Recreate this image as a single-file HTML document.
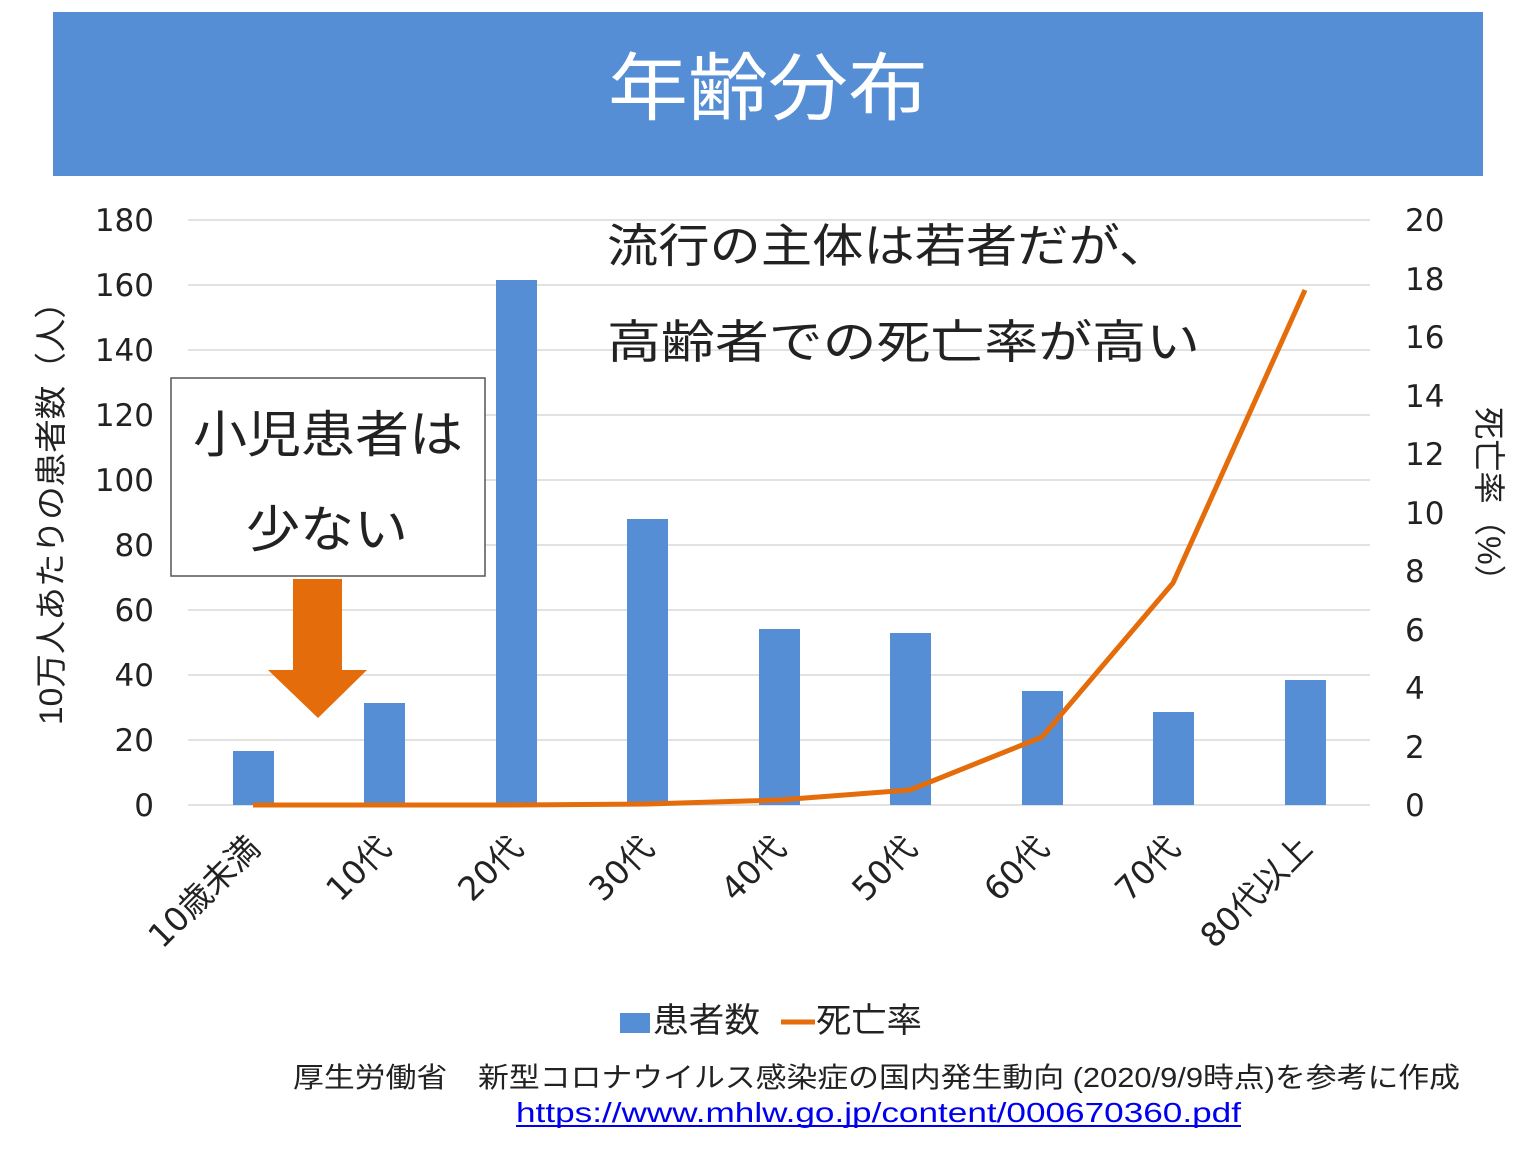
<!DOCTYPE html>
<html><head><meta charset="utf-8"><style>
html,body{margin:0;padding:0;background:#fff;}
svg{display:block;font-family:"Liberation Sans","Noto Sans CJK JP",sans-serif;}
.n{font-family:"DejaVu Sans","Noto Sans CJK JP",sans-serif;}
</style></head><body>
<svg width="1536" height="1152" viewBox="0 0 1536 1152" xmlns="http://www.w3.org/2000/svg">
<rect x="53" y="12" width="1430" height="164" fill="#558ED5"/>
<text x="608" y="114" font-size="74" fill="#fff" textLength="320" lengthAdjust="spacingAndGlyphs">年齢分布</text>
<g stroke="#d9d9d9" stroke-width="1.5">
<line x1="188" x2="1370" y1="220" y2="220"/><line x1="188" x2="1370" y1="285" y2="285"/>
<line x1="188" x2="1370" y1="350" y2="350"/><line x1="188" x2="1370" y1="415" y2="415"/>
<line x1="188" x2="1370" y1="480" y2="480"/><line x1="188" x2="1370" y1="545" y2="545"/>
<line x1="188" x2="1370" y1="610" y2="610"/><line x1="188" x2="1370" y1="675" y2="675"/>
<line x1="188" x2="1370" y1="740" y2="740"/><line x1="188" x2="1370" y1="805" y2="805"/>
</g>
<g class="n" font-size="31" fill="#222" text-anchor="end">
<text x="154" y="231">180</text><text x="154" y="296">160</text><text x="154" y="361">140</text>
<text x="154" y="426">120</text><text x="154" y="491">100</text><text x="154" y="556">80</text>
<text x="154" y="621">60</text><text x="154" y="686">40</text><text x="154" y="751">20</text>
<text x="154" y="816">0</text>
</g>
<g class="n" font-size="31" fill="#222">
<text x="1405" y="231">20</text><text x="1405" y="290">18</text><text x="1405" y="348">16</text>
<text x="1405" y="407">14</text><text x="1405" y="465">12</text><text x="1405" y="524">10</text>
<text x="1405" y="582">8</text><text x="1405" y="641">6</text><text x="1405" y="699">4</text>
<text x="1405" y="758">2</text><text x="1405" y="816">0</text>
</g>
<text transform="translate(62,505) rotate(-90)" text-anchor="middle" font-size="32" fill="#222" textLength="440" lengthAdjust="spacingAndGlyphs">10万人あたりの患者数（人）</text>
<text transform="translate(1478,502) rotate(90)" text-anchor="middle" font-size="32" fill="#222" textLength="190" lengthAdjust="spacingAndGlyphs">死亡率（%）</text>
<g fill="#558ED5">
<rect x="233" y="751" width="41" height="54"/><rect x="364" y="703" width="41" height="102"/>
<rect x="496" y="280" width="41" height="525"/><rect x="627" y="519" width="41" height="286"/>
<rect x="759" y="629" width="41" height="176"/><rect x="890" y="633" width="41" height="172"/>
<rect x="1022" y="691" width="41" height="114"/><rect x="1153" y="712" width="41" height="93"/>
<rect x="1285" y="680" width="41" height="125"/>
</g>
<polyline fill="none" stroke="#E46C0A" stroke-width="5" stroke-linejoin="round" points="253,805 384,805 516,805 647,804 779,800 910,790 1042,737 1173,583 1305,290"/>
<g class="n" font-size="33" fill="#222" text-anchor="end">
<text transform="translate(262,850) rotate(-45)">10歳未満</text>
<text transform="translate(393,850) rotate(-45)">10代</text>
<text transform="translate(525,850) rotate(-45)">20代</text>
<text transform="translate(656,850) rotate(-45)">30代</text>
<text transform="translate(788,850) rotate(-45)">40代</text>
<text transform="translate(919,850) rotate(-45)">50代</text>
<text transform="translate(1051,850) rotate(-45)">60代</text>
<text transform="translate(1182,850) rotate(-45)">70代</text>
<text transform="translate(1314,850) rotate(-45)">80代以上</text>
</g>
<text x="607" y="262" font-size="46" fill="#222" textLength="563" lengthAdjust="spacingAndGlyphs">流行の主体は若者だが、</text>
<text x="607" y="358" font-size="46" fill="#222" textLength="593" lengthAdjust="spacingAndGlyphs">高齢者での死亡率が高い</text>
<rect x="171" y="378" width="314" height="198" fill="#fff" stroke="#555" stroke-width="1.5"/>
<text x="193" y="452" font-size="50" fill="#222" textLength="270" lengthAdjust="spacingAndGlyphs">小児患者は</text>
<text x="246" y="547" font-size="50" fill="#222" textLength="162" lengthAdjust="spacingAndGlyphs">少ない</text>
<polygon points="293,579 342,579 342,670 367,670 318,718 268,670 293,670" fill="#E46C0A"/>
<rect x="620" y="1013" width="30" height="20" fill="#558ED5"/>
<text x="653" y="1032" font-size="34" fill="#222" textLength="107" lengthAdjust="spacingAndGlyphs">患者数</text>
<line x1="781" x2="815" y1="1022" y2="1022" stroke="#E46C0A" stroke-width="5"/>
<text x="816" y="1032" font-size="34" fill="#222" textLength="106" lengthAdjust="spacingAndGlyphs">死亡率</text>
<text x="293" y="1087" font-size="28" fill="#222" textLength="1167" lengthAdjust="spacingAndGlyphs">厚生労働省　新型コロナウイルス感染症の国内発生動向 (2020/9/9時点)を参考に作成</text>
<text x="516" y="1122" font-size="28" fill="#0000EE" textLength="725" lengthAdjust="spacingAndGlyphs">https://www.mhlw.go.jp/content/000670360.pdf</text>
<line x1="516" x2="1241" y1="1126" y2="1126" stroke="#0000EE" stroke-width="2"/>
</svg>
</body></html>
